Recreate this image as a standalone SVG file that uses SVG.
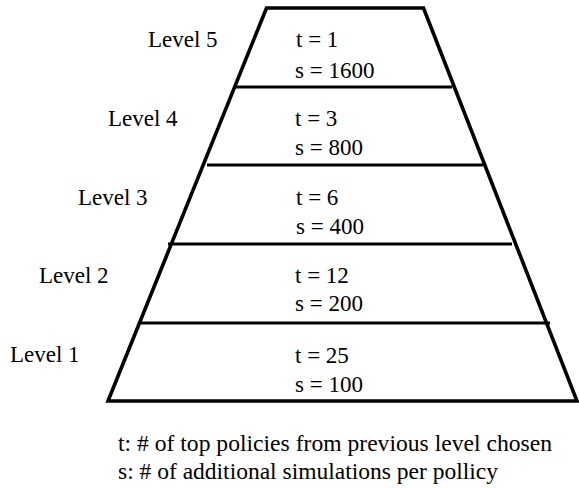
<svg xmlns="http://www.w3.org/2000/svg" width="579" height="489" viewBox="0 0 579 489">
<style>
.t { font-family: 'Liberation Serif', 'DejaVu Serif', serif; font-size: 23px; fill: #000; }
.edge { fill: none; stroke: #000; stroke-width: 3.6; stroke-linejoin: miter; }
.div { stroke: #000; stroke-width: 3.2; }
</style>
<rect width="579" height="489" fill="#fff"/>
<g id="pyramid">
<polygon class="edge" points="266.5,8 423.5,8 577,401 108,401"/>
</g>
<g id="connectors">
<line class="div" x1="236" y1="87" x2="452" y2="87"/>
<line class="div" x1="207" y1="165" x2="483" y2="165"/>
<line class="div" x1="168" y1="244" x2="512" y2="244"/>
<line class="div" x1="139" y1="323" x2="550" y2="323"/>
</g>
<g class="t" font-family="Liberation Serif, serif" font-size="23">
<g id="level5">
<text x="148" y="47">Level 5</text>
<text x="296" y="47">t = 1</text>
<text x="295" y="78">s = 1600</text>
</g>
<g id="level4">
<text x="108" y="126">Level 4</text>
<text x="295" y="126">t = 3</text>
<text x="295" y="155">s = 800</text>
</g>
<g id="level3">
<text x="78" y="205">Level 3</text>
<text x="296" y="205">t = 6</text>
<text x="296" y="234">s = 400</text>
</g>
<g id="level2">
<text x="39" y="283">Level 2</text>
<text x="295" y="283">t = 12</text>
<text x="295" y="311">s = 200</text>
</g>
<g id="level1">
<text x="10" y="362">Level 1</text>
<text x="295" y="363">t = 25</text>
<text x="295" y="392">s = 100</text>
</g>
<g id="legend">
<text x="118" y="451" textLength="434" lengthAdjust="spacingAndGlyphs">t: # of top policies from previous level chosen</text>
<text x="118" y="479" textLength="380" lengthAdjust="spacingAndGlyphs">s: # of additional simulations per pollicy</text>
</g>
</g>
</svg>
